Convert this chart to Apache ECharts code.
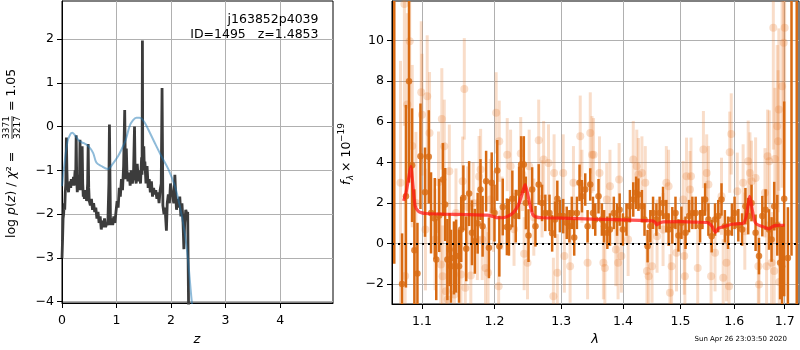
<!DOCTYPE html>
<html><head><meta charset="utf-8">
<script src="https://cdn.jsdelivr.net/npm/echarts@6/dist/echarts.min.js"></script>
<style>html,body{margin:0;padding:0;background:#fff}#c{width:800px;height:350px}</style>
</head><body><div id="c"></div>
<script>
// ---------- Left panel: log p(z) ----------
const pzZ = [0.000,0.010,0.020,0.030,0.040,0.050,0.060,0.070,0.080,0.090,0.100,0.110,0.120,0.130,0.140,0.150,0.160,0.170,0.180,0.190,
0.200,0.210,0.220,0.230,0.240,0.250,0.260,0.270,0.280,0.290,0.300,0.310,0.320,0.330,0.340,0.350,0.360,0.370,0.380,0.390,
0.400,0.410,0.420,0.430,0.440,0.450,0.460,0.470,0.480,0.490,0.500,0.520,0.540,0.560,0.580,0.600,0.620,0.640,0.660,0.680,
0.700,0.720,0.740,0.760,0.780,0.800,0.820,0.840,0.860,0.870,0.880,0.890,0.910,0.930,0.950,0.970,0.990,1.010,1.030,1.050,
1.070,1.090,1.110,1.130,1.150,1.160,1.170,1.180,1.190,1.210,1.230,1.250,1.270,1.290,1.310,1.330,1.340,1.360,1.380,1.400,
1.420,1.440,1.460,1.468,1.475,1.480,1.490,1.500,1.510,1.520,1.540,1.560,1.580,1.600,1.620,1.640,1.660,1.680,1.700,1.720,
1.740,1.760,1.780,1.800,1.820,1.835,1.850,1.870,1.890,1.915,1.930,1.950,1.970,1.990,2.010,2.030,2.050,2.070,2.085,2.100,
2.120,2.140,2.160,2.180,2.200,2.220,2.235,2.250,2.270,2.290,2.305,2.325];
const pzLogP = [-3.0,-2.6,-2.1,-2.0,-1.75,-1.9,-1.5,-1.3,-0.25,-1.0,-1.45,-1.35,-1.5,-1.3,-1.4,-1.25,-1.4,-1.2,-1.35,-1.25,
-1.3,-1.15,-1.35,-1.2,-1.0,-1.3,-0.2,-1.2,-1.5,-1.3,-1.45,-1.1,-1.3,-0.3,-1.2,-1.45,-1.3,-0.45,-1.3,-1.6,
-1.45,-1.65,-1.5,-1.6,-1.45,-1.7,-1.55,-1.3,-0.4,-1.4,-1.7,-1.8,-1.65,-1.9,-1.75,-1.95,-1.85,-2.1,-1.95,-2.2,
-2.05,-2.35,-2.15,-2.3,-2.1,-2.3,-2.2,-2.25,-1.3,0.05,-1.2,-2.25,-2.1,-2.25,-2.05,-2.2,-1.95,-1.7,-1.85,-1.4,
-1.6,-1.2,-1.45,-0.9,0.38,-0.7,-1.2,-0.5,-1.0,-1.25,-1.05,-1.35,-1.0,-1.3,-1.15,0.0,-1.0,-1.3,-0.85,-1.25,
-1.0,-1.3,-0.7,-1.1,1.97,-0.5,-0.9,-0.45,-1.0,-0.8,-1.3,-0.9,-1.4,-1.2,-1.5,-1.25,-1.6,-1.4,-1.55,-1.45,
-1.65,-1.5,-1.75,-1.45,-1.3,0.88,-1.8,-2.0,-1.85,-2.38,-1.75,-1.55,-1.75,-1.3,-1.5,-1.6,-1.75,-1.1,-1.55,-1.9,
-1.65,-1.85,-1.6,-2.05,-1.75,-2.2,-2.8,-2.2,-1.9,-2.0,-1.95,-4.6];
const priorZ = [0,0.04,0.1,0.15,0.19,0.25,0.32,0.4,0.48,0.57,0.63,0.72,0.84,0.93,1.03,1.1,1.17,1.24,1.3,1.365,1.42,1.47,1.53,1.58,1.7,1.82,1.95,2.07,2.16,2.25,2.31,2.37,2.43];
const priorLogP = [-1.36,-0.9,-0.35,-0.18,-0.14,-0.22,-0.33,-0.38,-0.44,-0.6,-0.82,-0.9,-0.97,-0.85,-0.67,-0.5,-0.3,0.01,0.14,0.2,0.2,0.17,0.06,-0.06,-0.37,-0.67,-0.97,-1.36,-1.81,-2.42,-3.03,-3.87,-4.6];
const leftXTicks = [0,1,2,3,4];
const leftYTicks = [-4,-3,-2,-1,0,1,2];

// ---------- Right panel: spectrum ----------
const darkLam = [1.064,1.074,1.079,1.083,1.087,1.090,1.094,1.098,1.104,1.109,1.112,1.117,1.119,1.123,1.128,1.131,1.134,1.137,1.139,1.143,
1.146,1.150,1.153,1.156,1.160,1.164,1.168,1.172,1.176,1.180,1.183,1.188,1.192,1.196,1.200,1.204,1.207,1.212,1.218,1.221,
1.226,1.231,1.236,1.239,1.243,1.246,1.250,
1.2555,1.2605,1.2654,1.2705,1.2755,1.2819,1.286,1.2905,1.294,1.298,1.3032,1.3087,1.3129,1.3167,1.3205,1.3248,1.329,1.3328,1.3381,1.3419,
1.3462,1.3506,1.3543,1.3596,1.3651,1.3687,1.3741,1.3784,1.3848,1.3902,1.3945,1.400,1.406,1.4118,1.4175,1.4223,1.4263,1.4323,1.4368,1.4421,
1.4468,1.4516,1.4574,1.4631,1.4691,1.4749,1.4789,
1.4855,1.4912,1.4965,1.5019,1.5093,1.5156,1.5217,1.5278,1.5359,1.5402,1.5452,1.5513,1.5574,1.5637,1.5698,1.5759,1.5822,1.5883,1.5957,1.6008,
1.608,1.6153,1.6218,1.6272,1.6337,1.6417,1.6484,1.655,1.6615,1.6683,1.6735,1.6788,1.685,1.6907,1.6947,1.699,1.7066,1.714,1.7248];
const darkFlux = [14,-2.0,2.33,8.0,3.86,-0.33,-1.48,4.3,2.53,4.27,1.51,1.23,-0.79,1.38,3.15,1.92,-0.79,-0.3,-1.12,-0.71,
-0.62,-1.12,0.69,2.25,-0.26,2.46,0.53,0.11,1.0,2.66,0.85,3.07,-0.21,2.99,1.5,3.6,-0.13,1.8,0.82,0.8,
2.2,1.35,2.5,3.89,3.89,2.0,0.39,
2.66,0.85,2.91,2.0,1.51,1.51,0.5,1.18,2.2,1.35,1.35,1.02,0.85,1.51,0.3,1.51,2.99,2.33,2.66,0.85,
2.91,1.51,1.18,2.33,1.18,0.85,0.53,0.69,1.51,1.18,1.67,0.69,1.18,1.84,2.17,2.5,2.41,1.84,1.18,-0.13,
0.85,1.51,1.18,1.51,2.0,1.35,0.69,
0.9,1.51,0.4,1.02,0.53,1.35,1.51,1.51,0.85,1.51,2.17,1.18,0.36,1.18,1.35,2.17,0.85,0.53,1.18,1.51,
0.9,0.69,1.84,1.35,2.0,0.53,-0.62,1.35,1.67,0.69,0.2,1.84,0.9,-0.95,-1.12,2.2,-0.71,14,14];
const darkErr = [15,2.5,4.5,5.0,2.8,3.0,2.5,2.6,2.2,2.3,2.0,2.0,2.0,1.8,1.8,1.8,2.0,1.8,1.8,1.8,
1.8,1.8,1.6,1.6,1.6,1.6,1.6,1.6,1.5,1.5,1.5,1.5,1.5,1.5,1.4,1.5,1.5,1.4,1.4,1.4,
1.4,1.3,1.3,1.4,1.4,1.3,1.3,
1.1,1.0,1.0,0.9,0.9,0.9,0.9,0.9,0.9,0.8,0.85,0.8,0.8,0.8,0.9,0.8,0.9,0.8,0.8,0.8,
0.8,0.8,0.8,0.85,0.8,0.8,0.8,0.8,0.8,0.8,0.8,0.8,0.8,0.8,0.85,0.8,0.8,0.8,0.8,0.8,
0.8,0.8,0.8,0.8,0.8,0.8,0.8,
0.9,0.8,0.8,0.8,0.8,0.8,0.8,0.8,0.8,0.8,0.8,0.8,0.8,0.8,0.8,0.8,0.8,0.8,0.8,0.8,
0.8,0.8,0.9,0.9,0.9,0.9,0.9,1.0,1.0,1.0,1.1,1.2,1.5,1.8,2.0,4.8,2.5,14.6,20];

const lightLam = [1.072,1.077,1.078,1.0808,1.0839,1.0872,1.092,1.099,1.100,1.1045,1.1069,1.110,1.1175,1.122,1.1252,1.1265,1.1275,1.1298,1.132,1.1344,
1.1367,1.1436,1.1458,1.1527,1.155,1.1573,1.1587,1.1619,1.1664,1.1697,1.1756,1.178,1.1802,1.1825,1.1871,1.1908,1.194,1.1986,1.2024,1.206,
1.2069,1.211,1.2185,1.2234,1.2285,1.2384,1.241,1.2435,1.2485,1.251,
1.258,1.2654,1.2705,1.2729,1.2804,1.2879,1.289,1.294,1.3032,1.305,1.314,1.3193,1.3301,1.3328,1.3419,1.3462,1.349,1.3515,1.3612,1.3676,
1.370,1.3731,1.3784,1.3882,1.3919,1.3936,1.3974,1.4088,1.4175,1.4235,1.4263,1.4323,1.4381,1.441,1.4439,1.4498,1.4586,1.4691,1.4749,1.4789,
1.4814,1.4842,1.493,1.505,1.507,1.5081,1.5111,1.5174,1.5192,1.5315,1.542,1.5481,1.5513,1.5563,1.5637,1.5759,1.5791,1.5852,1.5902,1.5915,
1.5944,1.606,1.6173,1.6206,1.6272,1.6306,1.6337,1.6417,1.6471,1.6484,1.6603,1.6635,1.6655,1.6689,1.6735,1.6788,1.677,1.6802,1.6848,1.6867,
1.6881,1.689,1.6947,1.6981,1.700];
const lightFlux = [3.0,11.8,-1.6,6.85,9.97,4.8,2.0,7.45,6.35,0.69,7.26,5.45,0.2,3.02,-1.03,6.14,-1.61,4.79,-2.35,-2.76,
3.56,-2.51,1.5,-1.53,3.07,7.62,-2.18,1.8,-1.58,2.0,0.2,3.3,3.65,0.2,-1.2,-1.44,2.17,1.59,6.44,-2.1,
5.04,1.5,4.38,3.81,0.7,4.43,3.4,-0.5,-0.95,3.81,
1.3,5.09,2.2,4.14,3.97,-2.6,3.48,-1.44,3.48,-0.62,-1.12,3.0,5.29,2.82,-0.95,5.45,4.38,4.38,3.48,-0.95,
-1.2,2.17,2.82,-0.3,-0.95,3.15,-0.62,0.2,4.14,3.81,3.4,3.48,3.0,-1.36,-1.61,-1.12,0.36,0.69,3.0,2.82,
-2.43,-1.12,-0.46,2.17,-0.62,-1.61,3.32,2.66,3.32,-1.2,4.63,3.48,2.91,-1.61,-0.46,2.33,-1.69,-0.95,-2.1,4.5,
5.4,2.58,2.99,0.61,4.06,3.48,3.07,3.23,-1.12,-2.02,2.5,-1.12,4.3,4.06,-0.95,-1.36,10.63,4.17,5.78,5.04,
6.6,-1.9,7.75,9.89,10.63];
const lightErr = [6,6,4,4.5,5,4,3.5,3.5,3,3,3,3,2.5,2.5,2.5,2.5,2.5,2.3,2.3,2.3,
2.3,2.2,2.2,2.2,2.2,2.5,2.2,2.0,2.0,2.0,2.0,2.0,2.0,2.0,2.0,2.0,2.0,2.0,2.0,2.0,
2.0,1.8,1.8,1.8,1.8,1.8,1.8,1.8,1.8,1.8,
1.9,2.0,1.9,1.9,1.9,1.9,1.9,1.9,1.9,1.8,1.8,1.8,2.0,1.8,1.8,2.0,1.9,1.8,1.8,1.8,
1.8,1.8,1.8,1.8,1.8,1.8,1.8,1.8,1.9,1.8,1.8,1.8,1.8,1.8,1.8,1.8,1.8,1.8,1.8,1.8,
1.9,1.9,1.9,1.9,1.9,1.9,1.9,1.9,1.9,1.9,1.9,1.9,1.9,1.9,1.9,1.9,1.9,1.9,1.9,2.0,
2.0,1.9,1.9,1.9,2.0,2.0,2.0,2.0,2.0,2.0,2.2,2.2,2.3,2.5,2.5,2.6,6,3.5,4,3.5,
4,3,5,6,7];

const modelLam = [1.076,1.079,1.082,1.0853,1.088,1.091,1.095,1.100,1.105,1.13,1.16,1.19,1.198,1.205,1.212,1.22,1.228,1.235,1.240,1.245,
1.249,1.253,1.257,1.262,1.27,1.30,1.35,1.40,1.45,1.455,1.458,1.462,1.47,1.50,1.53,1.55,1.558,1.5645,1.57,1.576,
1.585,1.595,1.61,1.618,1.623,1.627,1.630,1.633,1.637,1.642,1.65,1.66,1.668,1.673,1.68,1.69,1.70];
const modelFlux = [2.1,2.5,3.1,3.8,2.9,1.84,1.6,1.51,1.48,1.45,1.43,1.4,1.33,1.27,1.27,1.35,1.55,1.9,2.4,2.9,
2.4,1.8,1.4,1.3,1.27,1.25,1.2,1.17,1.12,1.05,0.92,1.0,1.07,1.08,1.05,1.03,0.85,0.55,0.75,0.8,
0.87,0.95,0.98,1.0,1.3,1.9,2.33,2.0,1.4,1.0,0.88,0.8,0.72,0.8,0.88,0.9,0.9];
const rightXTicks = [1.1,1.2,1.3,1.4,1.5,1.6,1.7];
const rightYTicks = [-2,0,2,4,6,8,10];

// ---------- chart ----------
const ORANGE = '#d86a12';
const ORANGE_LIGHT = 'rgba(230,120,40,0.25)';
const ORANGE_LIGHT_PT = 'rgba(230,120,40,0.3)';
const fmt = v => String(v).replace('-', '\u2212');
const zip3 = (a,b,c) => a.map((v,i)=>[v,b[i],c[i]]);
const zip2 = (a,b) => a.map((v,i)=>[v,b[i]]);

function errBars(color, width){
  return function(params, api){
    const x = api.value(0), y = api.value(1), e = api.value(2);
    const cs = params.coordSys;
    const p1 = api.coord([x, y - e]);
    const p2 = api.coord([x, y + e]);
    if (p1[0] < cs.x || p1[0] > cs.x + cs.width) return null;
    const top = cs.y, bot = cs.y + cs.height;
    const y1 = Math.min(Math.max(p1[1], top), bot);
    const y2 = Math.min(Math.max(p2[1], top), bot);
    return {type:'line', shape:{x1:p1[0], y1:y1, x2:p2[0], y2:y2}, style:{stroke:color, lineWidth:width}};
  };
}

const axisLine = {show:true, onZero:false, lineStyle:{color:'#000', width:1}};
const tickStyle = {color:'#000', width:1};
const labelBase = {color:'#000', fontFamily:'DejaVu Sans', fontSize:12.5};
const splitLine = {show:true, lineStyle:{color:'#b0b0b0', width:1}};

const option = {
  animation:false,
  backgroundColor:'#fff',
  grid:[
    {left:62, top:1, width:271, height:302, show:true, borderColor:'#000', borderWidth:1, backgroundColor:'transparent'},
    {left:392, top:1, width:407, height:303, show:true, borderColor:'#000', borderWidth:1, backgroundColor:'transparent'}
  ],
  xAxis:[
    {type:'value', gridIndex:0, min:0, max:4.97,
     axisLine:axisLine, axisTick:{show:true, length:5, lineStyle:tickStyle, customValues:leftXTicks},
     axisLabel:Object.assign({margin:11, customValues:leftXTicks, formatter:fmt}, labelBase), splitLine:splitLine},
    {type:'log', logBase:10, gridIndex:1, min:1.0611, max:1.7295,
     axisLine:axisLine,
     axisTick:{show:true, length:5, lineStyle:tickStyle, customValues:rightXTicks},
     axisLabel:Object.assign({margin:11, customValues:rightXTicks, formatter:v=>Number(v).toFixed(1)}, labelBase),
     splitLine:splitLine, minorTick:{show:false}, minorSplitLine:{show:false}}
  ],
  yAxis:[
    {type:'value', gridIndex:0, min:-4.03, max:2.87,
     axisLine:axisLine,
     axisTick:{show:true, length:5, lineStyle:tickStyle, customValues:leftYTicks},
     axisLabel:Object.assign({margin:8, customValues:leftYTicks, formatter:fmt}, labelBase),
     splitLine:splitLine},
    {type:'value', gridIndex:1, min:-2.98, max:11.95,
     axisLine:axisLine,
     axisTick:{show:true, length:5, lineStyle:tickStyle, customValues:rightYTicks},
     axisLabel:Object.assign({margin:8, customValues:rightYTicks, formatter:fmt}, labelBase),
     splitLine:splitLine}
  ],
  series:[
    {type:'line', xAxisIndex:0, yAxisIndex:0, data:zip2(pzZ, pzLogP), showSymbol:false, symbol:'none',
     lineStyle:{color:'#3c3c3c', width:2.8}, clip:true, z:3},
    {type:'line', xAxisIndex:0, yAxisIndex:0, data:zip2(priorZ, priorLogP), showSymbol:false, symbol:'none', smooth:0.35,
     lineStyle:{color:'rgba(31,119,180,0.5)', width:2}, clip:true, z:4},
    {type:'custom', xAxisIndex:1, yAxisIndex:1, data:zip3(lightLam, lightFlux, lightErr), encode:{x:0,y:1},
     renderItem:errBars(ORANGE_LIGHT, 3), z:2},
    {type:'scatter', xAxisIndex:1, yAxisIndex:1, data:zip2(lightLam, lightFlux), symbolSize:8, clip:true,
     itemStyle:{color:ORANGE_LIGHT_PT}, z:2},
    {type:'custom', xAxisIndex:1, yAxisIndex:1, data:zip3(darkLam, darkFlux, darkErr), encode:{x:0,y:1},
     renderItem:errBars(ORANGE, 2.5), z:3},
    {type:'scatter', xAxisIndex:1, yAxisIndex:1, data:zip2(darkLam, darkFlux), symbolSize:6.5, clip:true,
     itemStyle:{color:ORANGE}, z:3},
    {type:'line', xAxisIndex:1, yAxisIndex:1, data:zip2(modelLam, modelFlux), showSymbol:false, symbol:'none', smooth:0.2,
     lineStyle:{color:'rgba(255,20,20,0.72)', width:3.2}, clip:true, z:5,
     markLine:{silent:true, symbol:['none','none'], label:{show:false},
       lineStyle:{color:'#000', type:[2,4], width:2}, data:[{yAxis:0}]}}
  ],
  graphic:[
    {type:'text', z:100, x:318.5, y:19.5, style:{text:'j163852p4039', font:'12.5px "DejaVu Sans"', fill:'#000', align:'right', verticalAlign:'middle'}},
    {type:'text', z:100, x:318.5, y:35, style:{text:'ID=1495   z=1.4853', font:'12.5px "DejaVu Sans"', fill:'#000', align:'right', verticalAlign:'middle'}},
    {type:'text', z:100, x:197, y:340, style:{text:'z', font:'italic 13px "DejaVu Sans"', fill:'#000', align:'center', verticalAlign:'middle'}},
    {type:'text', z:100, x:595, y:340, style:{text:'λ', font:'italic 13px "DejaVu Sans"', fill:'#000', align:'center', verticalAlign:'middle'}},
    {type:'text', z:100, x:787, y:339.5, style:{text:'Sun Apr 26 23:03:50 2020', font:'7px "DejaVu Sans"', fill:'#000', align:'right', verticalAlign:'middle'}},
    {type:'group', z:100, x:12, y:238, rotation:Math.PI/2, children:[
      {type:'text', x:0, y:0, style:{text:'{n|log }{i|p}{n|(}{i|z}{n|) / }{i|χ}{n|² =}', verticalAlign:'middle', align:'left',
        rich:{n:{font:'12.5px "DejaVu Sans"', fill:'#000'}, i:{font:'italic 12.5px "DejaVu Sans"', fill:'#000'}}}},
      {type:'text', x:110.5, y:-5, style:{text:'3371', font:'9px "DejaVu Sans"', fill:'#000', align:'center', verticalAlign:'middle'}},
      {type:'line', shape:{x1:99, y1:0, x2:122, y2:0}, style:{stroke:'#000', lineWidth:0.8}},
      {type:'text', x:110.5, y:5.5, style:{text:'3217', font:'9px "DejaVu Sans"', fill:'#000', align:'center', verticalAlign:'middle'}},
      {type:'text', x:127, y:0, style:{text:'= 1.05', font:'12.5px "DejaVu Sans"', fill:'#000', align:'left', verticalAlign:'middle'}}
    ]},
    {type:'group', z:100, x:347, y:185, rotation:Math.PI/2, children:[
      {type:'text', x:0, y:0, style:{text:'f', font:'italic 12.5px "DejaVu Sans"', fill:'#000', align:'left', verticalAlign:'middle'}},
      {type:'text', x:5, y:4, style:{text:'λ', font:'italic 8.5px "DejaVu Sans"', fill:'#000', align:'left', verticalAlign:'middle'}},
      {type:'text', x:13, y:0, style:{text:'× 10', font:'12.5px "DejaVu Sans"', fill:'#000', align:'left', verticalAlign:'middle'}},
      {type:'text', x:43, y:-5, style:{text:'\u221219', font:'9px "DejaVu Sans"', fill:'#000', align:'left', verticalAlign:'middle'}}
    ]}
  ]
};
const chart = echarts.init(document.getElementById('c'));
chart.setOption(option);
</script></body></html>
